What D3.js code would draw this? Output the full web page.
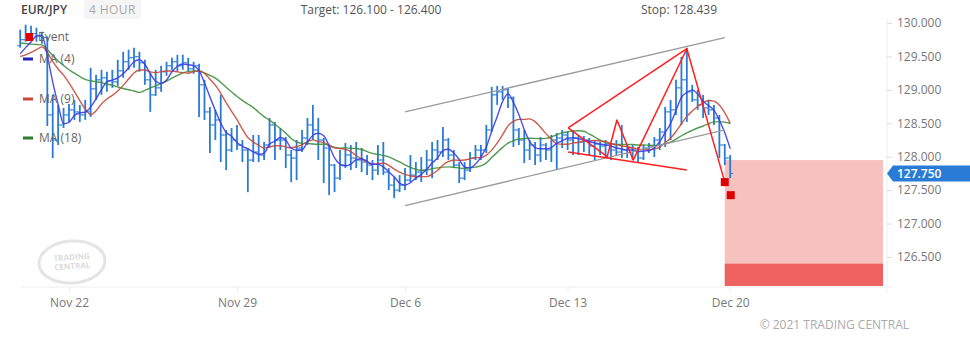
<!DOCTYPE html>
<html>
<head>
<meta charset="utf-8">
<script src="https://cdn.jsdelivr.net/npm/d3@7"></script>
<style>
  body { margin: 0; background: #fff; }
  svg { display: block; font-family: "Open Sans", sans-serif; }
</style>
</head>
<body>
<div id="chart"></div>
<script>
// 4-hour EUR/JPY bars, index 0 = first visible bar
const opens = [129.66,129.75,129.825,129.84,129.81,129.78,128.625,128.25,128.475,128.625,128.70,128.67,128.625,128.67,129.015,129.15,129.18,129.135,129.12,129.285,129.42,129.48,129.495,129.405,129.15,128.925,129.03,129.27,129.36,129.42,129.36,129.405,129.315,129.36,129.075,128.67,128.475,128.55,128.325,128.10,128.25,128.175,128.10,127.95,128.07,128.025,128.175,128.475,128.25,128.25,128.025,127.98,128.13,128.28,128.475,128.40,128.25,128.13,127.875,127.68,127.875,128.025,127.98,127.95,127.92,127.875,127.80,127.95,127.77,127.575,127.50,127.575,127.65,127.725,127.77,127.80,127.95,128.10,128.07,128.25,128.025,127.875,127.68,127.80,127.98,128.10,128.10,128.40,128.925,128.97,129.00,128.88,128.40,128.25,128.10,128.175,128.025,128.175,128.10,128.25,128.28,128.325,128.25,128.28,128.22,128.25,128.16,128.19,128.16,128.19,128.10,128.07,128.10,128.13,128.10,127.98,128.13,128.16,128.25,128.37,128.67,128.70,129.03,129.15,128.97,128.85,128.775,128.73,128.70,128.58,128.175,127.98];
const highs = [129.90,129.975,129.96,129.93,129.87,129.80,128.925,128.775,128.73,128.79,128.85,128.775,128.85,129.33,129.225,129.30,129.27,129.30,129.45,129.57,129.60,129.63,129.57,129.45,129.255,129.30,129.36,129.42,129.48,129.525,129.525,129.48,129.42,129.39,129.15,128.745,128.70,128.925,128.40,128.43,128.475,128.25,128.13,128.325,128.325,128.22,128.58,128.52,128.43,128.295,128.10,128.25,128.40,128.58,128.775,128.58,128.28,128.175,127.89,128.10,128.205,128.175,128.22,128.13,128.025,127.95,128.175,128.22,127.83,127.695,127.725,127.83,128.025,127.92,127.995,128.10,128.22,128.25,128.445,128.28,128.10,127.92,127.92,128.07,128.175,128.175,128.475,129.045,129.06,129.06,129.03,128.90,128.43,128.40,128.25,128.22,128.295,128.205,128.325,128.355,128.40,128.37,128.40,128.31,128.31,128.28,128.25,128.22,128.25,128.205,128.25,128.475,128.175,128.175,128.145,128.175,128.205,128.295,128.43,128.745,128.85,129.15,129.495,129.63,129.075,129.00,128.925,128.85,128.775,128.625,128.19,128.025];
const lows = [129.63,129.72,129.75,129.72,129.69,128.46,127.98,128.175,128.43,128.52,128.55,128.52,128.55,128.595,128.85,128.925,128.97,129.03,129.06,129.18,129.30,129.33,129.27,129.075,128.67,128.91,128.97,129.21,129.30,129.27,129.30,129.27,129.24,128.595,128.55,128.055,128.25,127.92,127.80,128.07,128.10,127.92,127.47,127.92,127.92,127.95,128.13,127.95,128.10,127.83,127.62,127.65,128.07,128.175,128.25,127.95,127.605,127.425,127.47,127.65,127.83,127.80,127.83,127.77,127.725,127.65,127.725,127.725,127.50,127.38,127.47,127.50,127.62,127.65,127.62,127.725,127.68,127.95,127.995,127.95,127.83,127.605,127.65,127.77,127.95,127.95,128.055,128.37,128.775,128.85,128.73,128.145,128.175,127.905,127.95,127.875,127.92,127.95,127.92,127.80,128.13,128.10,128.025,128.025,128.07,128.025,127.95,128.025,127.98,127.95,128.01,127.98,127.98,127.95,127.92,127.95,128.055,127.995,128.10,128.145,128.25,128.625,128.475,128.52,128.82,128.70,128.58,128.625,128.475,127.98,127.875,127.68];
const closes = [129.75,129.825,129.84,129.81,129.78,128.625,128.25,128.475,128.625,128.70,128.67,128.625,128.67,129.015,129.15,129.18,129.135,129.12,129.285,129.42,129.48,129.495,129.405,129.15,128.925,129.03,129.27,129.36,129.42,129.36,129.405,129.315,129.36,129.075,128.67,128.475,128.55,128.325,128.10,128.25,128.175,128.10,127.95,128.07,128.025,128.175,128.475,128.25,128.25,128.025,127.98,128.13,128.28,128.475,128.40,128.25,128.13,127.875,127.68,127.875,128.025,127.98,127.95,127.92,127.875,127.80,127.95,127.77,127.575,127.50,127.575,127.65,127.725,127.77,127.80,127.95,128.10,128.07,128.25,128.025,127.875,127.68,127.80,127.98,128.10,128.10,128.40,128.925,128.97,129.00,128.88,128.40,128.25,128.10,128.175,128.025,128.175,128.10,128.25,128.28,128.325,128.25,128.28,128.22,128.25,128.16,128.19,128.16,128.19,128.10,128.07,128.10,128.13,128.10,127.98,128.13,128.16,128.25,128.37,128.67,128.70,129.03,129.15,128.97,128.85,128.775,128.73,128.70,128.58,128.175,127.98,127.75];
// closes before the visible window (feed the moving averages)
const prevCloses = [129.95,129.98,129.92,129.88,129.90,129.85,129.93,129.87,129.82,129.60,129.52,129.44,129.40,129.38,129.45,129.50,129.45];

const dateTicks = [9, 40, 71, 101, 131];
const dateLabels = ["Nov 22", "Nov 29", "Dec 6", "Dec 13", "Dec 20"];
const priceTicks = [126.5, 127, 127.5, 128, 128.5, 129, 129.5, 130];

// channel lines [index, price]
const channelUpper = [[71, 128.67], [130, 129.78]];
const channelLower = [[71, 127.27], [130, 128.40]];
// red pattern
const patternZigzag = [[101.1, 128.43], [108.3, 128.0], [110.1, 128.55], [113.1, 127.95], [123, 129.615], [130, 127.62]];
const patternTop = [[101.1, 128.43], [123, 129.615]];
const patternBottom = [[101.1, 128.07], [123, 127.80]];
const events = [[130, 127.62], [131.1, 127.425]];

const targetZone = [126.10, 126.40];
const forecastZone = { from: 130, to: 159.2, top: 127.95 };
const targetText = "Target: 126.100 - 126.400";
const stopText = "Stop: 128.439";

const maPeriods = [4, 9, 18];
const maColors = ["#3b3be6", "#c8493a", "#3d8f3d"];
const legendColors = ["#2222bb", "#c8493a", "#2e7d32"];

const width = 970, height = 337;
const x = d3.scaleLinear().domain([0, 131]).range([20.2, 730.2]);
const y = d3.scaleLinear().domain([126.5, 130]).range([257, 23]);
const plotBottom = 287, plotRight = 887;

const svg = d3.select("#chart").append("svg")
  .attr("width", width)
  .attr("height", height);

// header
svg.append("text").attr("x", 21).attr("y", 14)
  .attr("font-size", 12).attr("font-weight", 600).attr("fill", "#444").text("EUR/JPY");
svg.append("rect").attr("x", 84).attr("y", 0).attr("width", 57).attr("height", 19).attr("rx", 2).attr("fill", "#f5f5f5");
svg.append("text").attr("x", 89).attr("y", 14)
  .attr("font-size", 12).attr("fill", "#aaa").attr("letter-spacing", 0.4).text("4 HOUR");
svg.append("text").attr("x", 371).attr("y", 14).attr("text-anchor", "middle")
  .attr("font-size", 12).attr("fill", "#555").text(targetText);
svg.append("text").attr("x", 641).attr("y", 14)
  .attr("font-size", 12).attr("fill", "#555").text(stopText);

// watermark logo
const logo = svg.append("g").attr("transform", "translate(72,262) rotate(-4)");
logo.append("ellipse").attr("rx", 33).attr("ry", 21).attr("fill", "none").attr("stroke", "#e4e4e4").attr("stroke-width", 3);
logo.append("text").attr("y", -2).attr("text-anchor", "middle").attr("font-size", 8).attr("font-weight", 700)
  .attr("fill", "#dcdcdc").text("TRADING");
logo.append("text").attr("y", 7).attr("text-anchor", "middle").attr("font-size", 8).attr("font-weight", 700)
  .attr("fill", "#dcdcdc").text("CENTRAL");

// forecast zones
svg.append("rect")
  .attr("x", x(forecastZone.from)).attr("y", y(forecastZone.top))
  .attr("width", x(forecastZone.to) - x(forecastZone.from))
  .attr("height", plotBottom - 1 - y(forecastZone.top))
  .attr("fill", "#f7c1c0");
svg.append("rect")
  .attr("x", x(forecastZone.from)).attr("y", y(targetZone[1]))
  .attr("width", x(forecastZone.to) - x(forecastZone.from))
  .attr("height", plotBottom - 1 - y(targetZone[1]))
  .attr("fill", "#ef6262");

// axes
const xAxis = svg.append("g").attr("transform", `translate(0,${plotBottom})`)
  .call(d3.axisBottom(x).tickValues(dateTicks).tickFormat((d, i) => dateLabels[i]).tickSize(5).tickPadding(6));
xAxis.select(".domain").attr("d", `M21,0H893`).attr("stroke", "#eee");
xAxis.selectAll(".tick line").attr("stroke", "#eee");
xAxis.selectAll("text").attr("font-size", 12).attr("fill", "#777").attr("font-family", "Open Sans");

const yAxis = svg.append("g").attr("transform", `translate(${plotRight},0)`)
  .call(d3.axisRight(y).tickValues(priceTicks).tickFormat(d3.format(".3f")).tickSize(5).tickPadding(5));
yAxis.select(".domain").attr("d", `M0,18V293`).attr("stroke", "#eee");
yAxis.selectAll(".tick line").attr("stroke", "#ddd");
yAxis.selectAll("text").attr("font-size", 12).attr("fill", "#777").attr("font-family", "Open Sans");

// OHLC bars
const bars = svg.append("g").attr("stroke", "#2a7bd6");
bars.selectAll("line.hl").data(closes).join("line").attr("class", "hl")
  .attr("x1", (d, i) => x(i)).attr("x2", (d, i) => x(i))
  .attr("y1", (d, i) => y(highs[i])).attr("y2", (d, i) => y(lows[i]))
  .attr("stroke-width", 1.8);
bars.selectAll("line.o").data(opens).join("line").attr("class", "o")
  .attr("x1", (d, i) => x(i) - 3).attr("x2", (d, i) => x(i))
  .attr("y1", d => y(d)).attr("y2", d => y(d)).attr("stroke-width", 1);
bars.selectAll("line.c").data(closes).join("line").attr("class", "c")
  .attr("x1", (d, i) => x(i)).attr("x2", (d, i) => x(i) + 3)
  .attr("y1", d => y(d)).attr("y2", d => y(d)).attr("stroke-width", 1);

// moving averages
const allCloses = prevCloses.concat(closes);
function movingAverage(n) {
  const off = prevCloses.length;
  return closes.map((c, i) => d3.mean(allCloses.slice(Math.max(0, i + off - n + 1), i + off + 1)));
}
const maLine = d3.line().x((d, i) => x(i)).y(d => y(d)).curve(d3.curveMonotoneX);
maPeriods.slice().reverse().forEach((p, k) => {
  const idx = maPeriods.length - 1 - k;
  svg.append("path").datum(movingAverage(p))
    .attr("d", maLine).attr("fill", "none")
    .attr("stroke", maColors[idx]).attr("stroke-width", 1.4).attr("stroke-opacity", 0.9);
});

// channel + pattern
const pLine = d3.line().x(d => x(d[0])).y(d => y(d[1]));
[channelUpper, channelLower].forEach(l => {
  svg.append("path").datum(l).attr("d", pLine).attr("fill", "none").attr("stroke", "#9a9a9a").attr("stroke-width", 1.3);
});
[patternZigzag, patternTop, patternBottom].forEach(l => {
  svg.append("path").datum(l).attr("d", pLine).attr("fill", "none").attr("stroke", "#ff1f1f")
    .attr("stroke-width", 1.5).attr("stroke-linejoin", "round");
});

// events
svg.selectAll("rect.ev").data(events).join("rect").attr("class", "ev")
  .attr("x", d => x(d[0]) - 4).attr("y", d => y(d[1]) - 4)
  .attr("width", 8).attr("height", 8).attr("fill", "#e00000");

// legend
const legend = svg.append("g").attr("font-size", 12).attr("fill", "#666");
legend.append("rect").attr("x", 26).attr("y", 33).attr("width", 7).attr("height", 8).attr("fill", "#e00000");
legend.append("text").attr("x", 38).attr("y", 41).text("Event");
const legendY = [59, 99, 138];
maPeriods.forEach((p, i) => {
  legend.append("line").attr("x1", 23).attr("x2", 33).attr("y1", legendY[i]).attr("y2", legendY[i])
    .attr("stroke", legendColors[i]).attr("stroke-width", 3);
  legend.append("text").attr("x", 39).attr("y", legendY[i] + 4).text(`MA (${p})`);
});

// current price tag
const last = closes[closes.length - 1];
const tag = svg.append("g").attr("transform", `translate(0,${y(last)})`);
tag.append("path").attr("d", "M887,0L893,-8H970V8H893Z").attr("fill", "#2a7bd6");
tag.append("text").attr("x", 897).attr("y", 4.5).attr("font-size", 12).attr("font-weight", 600)
  .attr("fill", "#fff").text(d3.format(".3f")(last));

// copyright
svg.append("text").attr("x", 909).attr("y", 329).attr("text-anchor", "end")
  .attr("font-size", 12).attr("fill", "#aaa").text("© 2021 TRADING CENTRAL");
</script>
</body>
</html>
